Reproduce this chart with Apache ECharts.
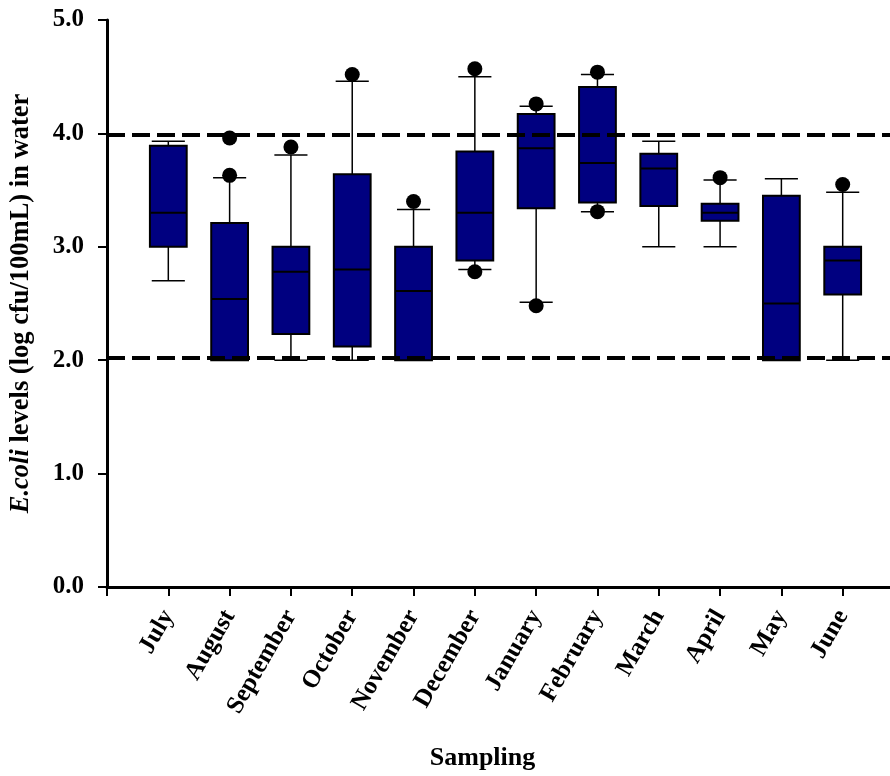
<!DOCTYPE html>
<html>
<head>
<meta charset="utf-8">
<script src="https://cdn.jsdelivr.net/npm/echarts@6/dist/echarts.min.js"></script>
<style>html,body{margin:0;padding:0;background:#fff}#c{width:890px;height:776px}</style>
</head>
<body>
<div id="c"></div>
<script>
const months = ['July','August','September','October','November','December','January','February','March','April','May','June'];
const whiskerLow  = [2.70, 2.00, 2.00, 2.00, 2.00, 2.80, 2.51, 3.31, 3.00, 3.00, 2.00, 2.00];
const q1          = [3.00, 2.00, 2.23, 2.12, 2.00, 2.88, 3.34, 3.39, 3.36, 3.23, 2.00, 2.58];
const median      = [3.30, 2.54, 2.78, 2.80, 2.61, 3.30, 3.87, 3.74, 3.69, 3.30, 2.50, 2.88];
const q3          = [3.89, 3.21, 3.00, 3.64, 3.00, 3.84, 4.17, 4.41, 3.82, 3.38, 3.45, 3.00];
const whiskerHigh = [3.93, 3.61, 3.81, 4.46, 3.33, 4.50, 4.24, 4.52, 3.93, 3.59, 3.60, 3.48];
const outlierMonth = [2, 2, 3, 4, 5, 6, 6, 7, 7, 8, 8, 10, 12];
const outlierValue = [3.63, 3.96, 3.88, 4.52, 3.40, 4.57, 2.78, 4.26, 2.48, 4.54, 3.31, 3.61, 3.55];
const refLines = [3.99, 2.02];
const yTicks = [0, 1, 2, 3, 4, 5];

const FONT = 'Liberation Serif';
const boxData = months.map((m, i) => [i + 1, whiskerLow[i], q1[i], median[i], q3[i], whiskerHigh[i]]);
const outData = outlierMonth.map((m, i) => [m, outlierValue[i]]);

const chart = echarts.init(document.getElementById('c'));
chart.setOption({
  animation: false,
  grid: { left: 107, right: -14, top: 20, bottom: 189, containLabel: false, outerBoundsMode: 'none' },
  xAxis: [{
    type: 'value', min: 0, max: 13, interval: 1,
    axisLine: { show: true, onZero: false, lineStyle: { color: '#000', width: 3 } },
    axisTick: { show: true, inside: false, length: 9, lineStyle: { color: '#000', width: 2 } },
    splitLine: { show: false },
    axisLabel: {
      rotate: 60, margin: 25, color: '#000', fontFamily: FONT, fontWeight: 'bold', fontSize: 25,
      formatter: v => (v >= 1 && v <= months.length && Number.isInteger(v)) ? months[v - 1] : ''
    },
    name: 'Sampling', nameLocation: 'middle', nameGap: 158,
    nameTextStyle: { color: '#000', fontFamily: FONT, fontWeight: 'bold', fontSize: 26, padding: [0, 46, 0, 0] }
  }, {
    type: 'value', min: 0, max: 13, position: 'top',
    axisLine: { show: true, lineStyle: { color: '#000', width: 2 } },
    axisTick: { show: false }, axisLabel: { show: false }, splitLine: { show: false }
  }],
  yAxis: {
    type: 'value', min: yTicks[0], max: yTicks[yTicks.length - 1], interval: 1,
    axisLine: { show: true, lineStyle: { color: '#000', width: 3 } },
    axisTick: { show: true, inside: false, length: 9, lineStyle: { color: '#000', width: 2 } },
    splitLine: { show: false },
    axisLabel: { margin: 23, color: '#000', fontFamily: FONT, fontWeight: 'bold', fontSize: 25, formatter: v => v.toFixed(1) },
    name: '{i|E.coli}{b| levels (log cfu/100mL) in water}',
    nameLocation: 'middle', nameGap: 72, nameRotate: 90,
    nameTextStyle: {
      color: '#000', fontFamily: FONT, fontWeight: 'bold', fontSize: 26.5,
      rich: {
        i: { fontFamily: FONT, fontWeight: 'bold', fontStyle: 'italic', fontSize: 26.5, color: '#000' },
        b: { fontFamily: FONT, fontWeight: 'bold', fontSize: 26.5, color: '#000' }
      }
    }
  },
  series: [{
    type: 'custom',
    data: boxData,
    z: 2,
    renderItem: function (params, api) {
      const x = api.value(0);
      const band = api.size([1, 0])[0];
      const hw = band * 0.3, cw = band * 0.27;
      const pLow = api.coord([x, api.value(1)]);
      const pQ1 = api.coord([x, api.value(2)]);
      const pMed = api.coord([x, api.value(3)]);
      const pQ3 = api.coord([x, api.value(4)]);
      const pHigh = api.coord([x, api.value(5)]);
      const cx = pMed[0];
      const thin = { stroke: '#000', lineWidth: 1.5 };
      return {
        type: 'group',
        children: [
          { type: 'line', shape: { x1: cx, y1: pQ3[1], x2: cx, y2: pHigh[1] }, style: thin },
          { type: 'line', shape: { x1: cx, y1: pQ1[1], x2: cx, y2: pLow[1] }, style: thin },
          { type: 'line', shape: { x1: cx - cw, y1: pHigh[1], x2: cx + cw, y2: pHigh[1] }, style: thin },
          { type: 'line', shape: { x1: cx - cw, y1: pLow[1], x2: cx + cw, y2: pLow[1] }, style: thin },
          { type: 'rect', shape: { x: cx - hw, y: pQ3[1], width: hw * 2, height: pQ1[1] - pQ3[1] },
            style: { fill: '#000080', stroke: '#000', lineWidth: 2 } },
          { type: 'line', shape: { x1: cx - hw, y1: pMed[1], x2: cx + hw, y2: pMed[1] }, style: { stroke: '#000', lineWidth: 2 } }
        ]
      };
    },
    markLine: {
      silent: true, symbol: 'none', z: 5,
      label: { show: false },
      lineStyle: { color: '#000', width: 4, type: [18, 7], opacity: 1 },
      data: refLines.map(v => ({ yAxis: v }))
    }
  }, {
    type: 'scatter',
    data: outData,
    symbol: 'circle', symbolSize: 15, z: 6,
    itemStyle: { color: '#000', opacity: 1 }
  }]
});
</script>
</body>
</html>
